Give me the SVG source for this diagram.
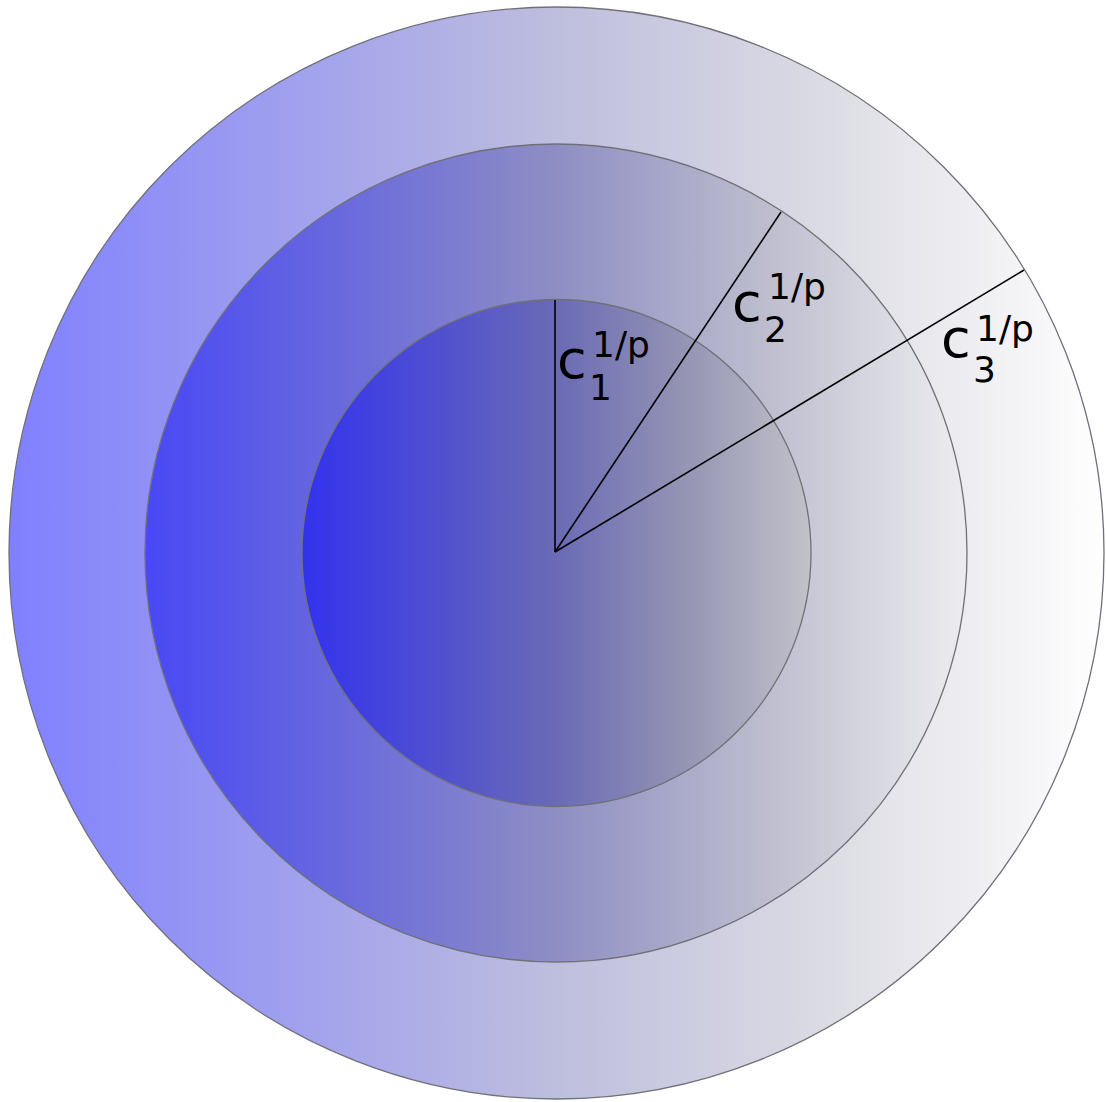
<svg xmlns="http://www.w3.org/2000/svg" width="1106" height="1102" viewBox="0 0 1106 1102">
<defs>
<linearGradient id="gOuter" x1="0" y1="0" x2="1" y2="0">
<stop offset="0" stop-color="#8080ff"/>
<stop offset="0.5" stop-color="#bebede"/>
<stop offset="0.75" stop-color="#dcdce4"/>
<stop offset="1" stop-color="#ffffff"/>
</linearGradient>
<linearGradient id="gMid" x1="0" y1="0" x2="1" y2="0">
<stop offset="0" stop-color="#4848f5"/>
<stop offset="0.5" stop-color="#8e8ec4"/>
<stop offset="0.75" stop-color="#bcbcce"/>
<stop offset="1" stop-color="#ededf0"/>
</linearGradient>
<linearGradient id="gInner" x1="0" y1="0" x2="1" y2="0">
<stop offset="0" stop-color="#3232ee"/>
<stop offset="0.5" stop-color="#6a6ab6"/>
<stop offset="0.75" stop-color="#9494b4"/>
<stop offset="1" stop-color="#c2c2ca"/>
</linearGradient>
</defs>
<style>
.ring{stroke:#707078;stroke-width:1.3}
.ray{stroke:#000;stroke-width:1.6;fill:none}
.lbl{font-family:"DejaVu Sans",sans-serif;fill:#000}
.base{font-size:54px}
.scr{font-size:36px}
</style>
<g id="outer"><ellipse class="ring" cx="556.5" cy="553" rx="547.5" ry="546" fill="url(#gOuter)"/></g>
<g id="middle"><ellipse class="ring" cx="556" cy="553" rx="411" ry="409" fill="url(#gMid)"/></g>
<g id="inner"><ellipse class="ring" cx="556.5" cy="553" rx="254.5" ry="253.5" fill="url(#gInner)" stroke="#55555e"/></g>
<g id="connectors">
<line class="ray" x1="555" y1="552" x2="555" y2="300"/>
<line class="ray" x1="555" y1="552" x2="781" y2="212"/>
<line class="ray" x1="555" y1="552" x2="1024" y2="270"/>
</g>
<g id="label1">
<text class="lbl base" x="557" y="378">c</text>
<text class="lbl scr" x="589" y="400">1</text>
<text class="lbl scr" x="592" y="357">1/p</text>
</g>
<g id="label2">
<text class="lbl base" x="732" y="321">c</text>
<text class="lbl scr" x="764" y="342">2</text>
<text class="lbl scr" x="768" y="299">1/p</text>
</g>
<g id="label3">
<text class="lbl base" x="941" y="357">c</text>
<text class="lbl scr" x="973" y="382">3</text>
<text class="lbl scr" x="976" y="341">1/p</text>
</g>
</svg>
